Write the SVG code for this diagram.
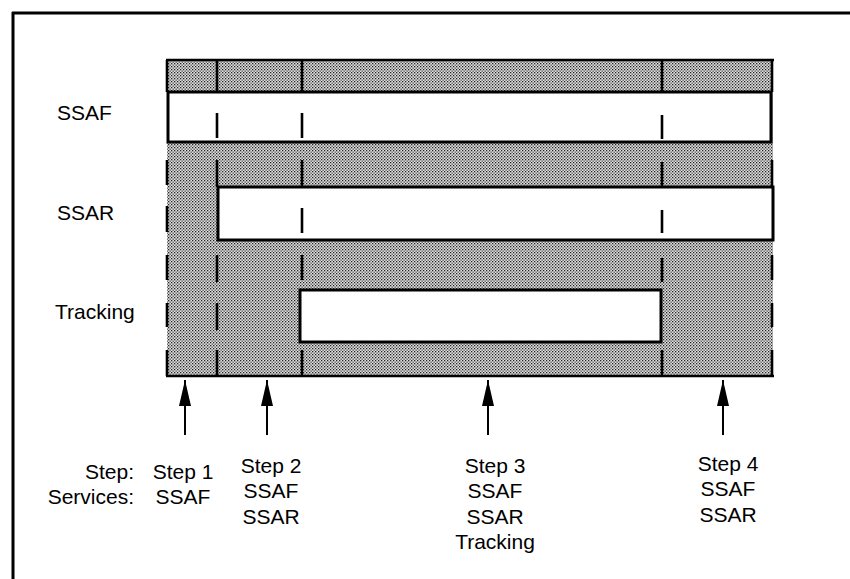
<svg xmlns="http://www.w3.org/2000/svg" width="850" height="579" viewBox="0 0 850 579">
<defs>
<pattern id="dots" width="3" height="3" patternUnits="userSpaceOnUse">
<rect width="3" height="3" fill="#e0e0e0"/>
<rect x="0" y="0" width="1.3" height="1.3" fill="#222"/>
<rect x="1.5" y="1.5" width="1.3" height="1.3" fill="#444"/>
</pattern>
<marker id="ah" markerWidth="26" markerHeight="12" refX="26" refY="6" orient="auto" markerUnits="userSpaceOnUse" viewBox="0 0 26 12">
<path d="M26 6 L0 0 L0 12 Z" fill="#000"/>
</marker>
<style>
.t{font-family:"Liberation Sans",Arial,sans-serif;font-size:21px;fill:#000}
.box{fill:#fff;stroke:#000;stroke-width:3}
.d{stroke:#000;stroke-width:2.6;fill:none}
.arr{stroke:#000;stroke-width:2;fill:none}
</style>
</defs>
<g id="frame">
<line x1="12" y1="13" x2="850" y2="13" stroke="#000" stroke-width="3"/>
<line x1="13" y1="12" x2="13" y2="579" stroke="#000" stroke-width="3"/>
</g>
<g id="timeline">
<rect x="167" y="60" width="606" height="316" fill="url(#dots)"/>
<line x1="166" y1="60" x2="774" y2="60" class="d" stroke-width="3"/>
<line x1="166" y1="376" x2="774" y2="376" class="d" stroke-width="3"/>
</g>
<g id="ssaf-bar"><rect class="box" x="168" y="92" width="603" height="50"/></g>
<g id="ssar-bar"><rect class="box" x="218" y="187" width="555" height="53"/></g>
<g id="tracking-bar"><rect class="box" x="300" y="290" width="361" height="52"/></g>
<g id="dividers">
<path class="d" d="M167 60V92 M217 60V92 M302 60V92 M662 60V92 M772 60V92"/>
<path class="d" d="M217 113V138 M302 113V138 M662 115V139"/>
<path class="d" d="M167 160V185 M217 160V187 M302 160V187 M662 162V187 M772 160V187"/>
<path class="d" d="M167 206V232 M302 208V233 M662 210V233"/>
<path class="d" d="M167 255V280 M217 255V282 M302 255V280 M662 258V282 M772 255V280"/>
<path class="d" d="M167 303V327 M217 303V330 M772 303V327"/>
<path class="d" d="M167 350V376 M217 350V376 M302 350V376 M662 350V376 M772 350V376"/>
</g>
<g id="row-labels">
<text class="t" x="57" y="120">SSAF</text>
<text class="t" x="57" y="220">SSAR</text>
<text class="t" x="55" y="319">Tracking</text>
</g>
<g id="connectors">
<line class="arr" x1="185" y1="435" x2="185" y2="380" marker-end="url(#ah)"/>
<line class="arr" x1="267" y1="435" x2="267" y2="380" marker-end="url(#ah)"/>
<line class="arr" x1="488" y1="435" x2="488" y2="380" marker-end="url(#ah)"/>
<line class="arr" x1="723" y1="435" x2="723" y2="380" marker-end="url(#ah)"/>
</g>
<g id="legend">
<text class="t" x="134" y="479" text-anchor="end">Step:</text>
<text class="t" x="134" y="504" text-anchor="end">Services:</text>
</g>
<g id="step1">
<text class="t" x="183" y="479" text-anchor="middle">Step 1</text>
<text class="t" x="183" y="504" text-anchor="middle">SSAF</text>
</g>
<g id="step2">
<text class="t" x="271" y="473" text-anchor="middle">Step 2</text>
<text class="t" x="271" y="498" text-anchor="middle">SSAF</text>
<text class="t" x="271" y="524" text-anchor="middle">SSAR</text>
</g>
<g id="step3">
<text class="t" x="495" y="473" text-anchor="middle">Step 3</text>
<text class="t" x="495" y="498" text-anchor="middle">SSAF</text>
<text class="t" x="495" y="524" text-anchor="middle">SSAR</text>
<text class="t" x="495" y="549" text-anchor="middle">Tracking</text>
</g>
<g id="step4">
<text class="t" x="728" y="471" text-anchor="middle">Step 4</text>
<text class="t" x="728" y="496" text-anchor="middle">SSAF</text>
<text class="t" x="728" y="522" text-anchor="middle">SSAR</text>
</g>
</svg>
